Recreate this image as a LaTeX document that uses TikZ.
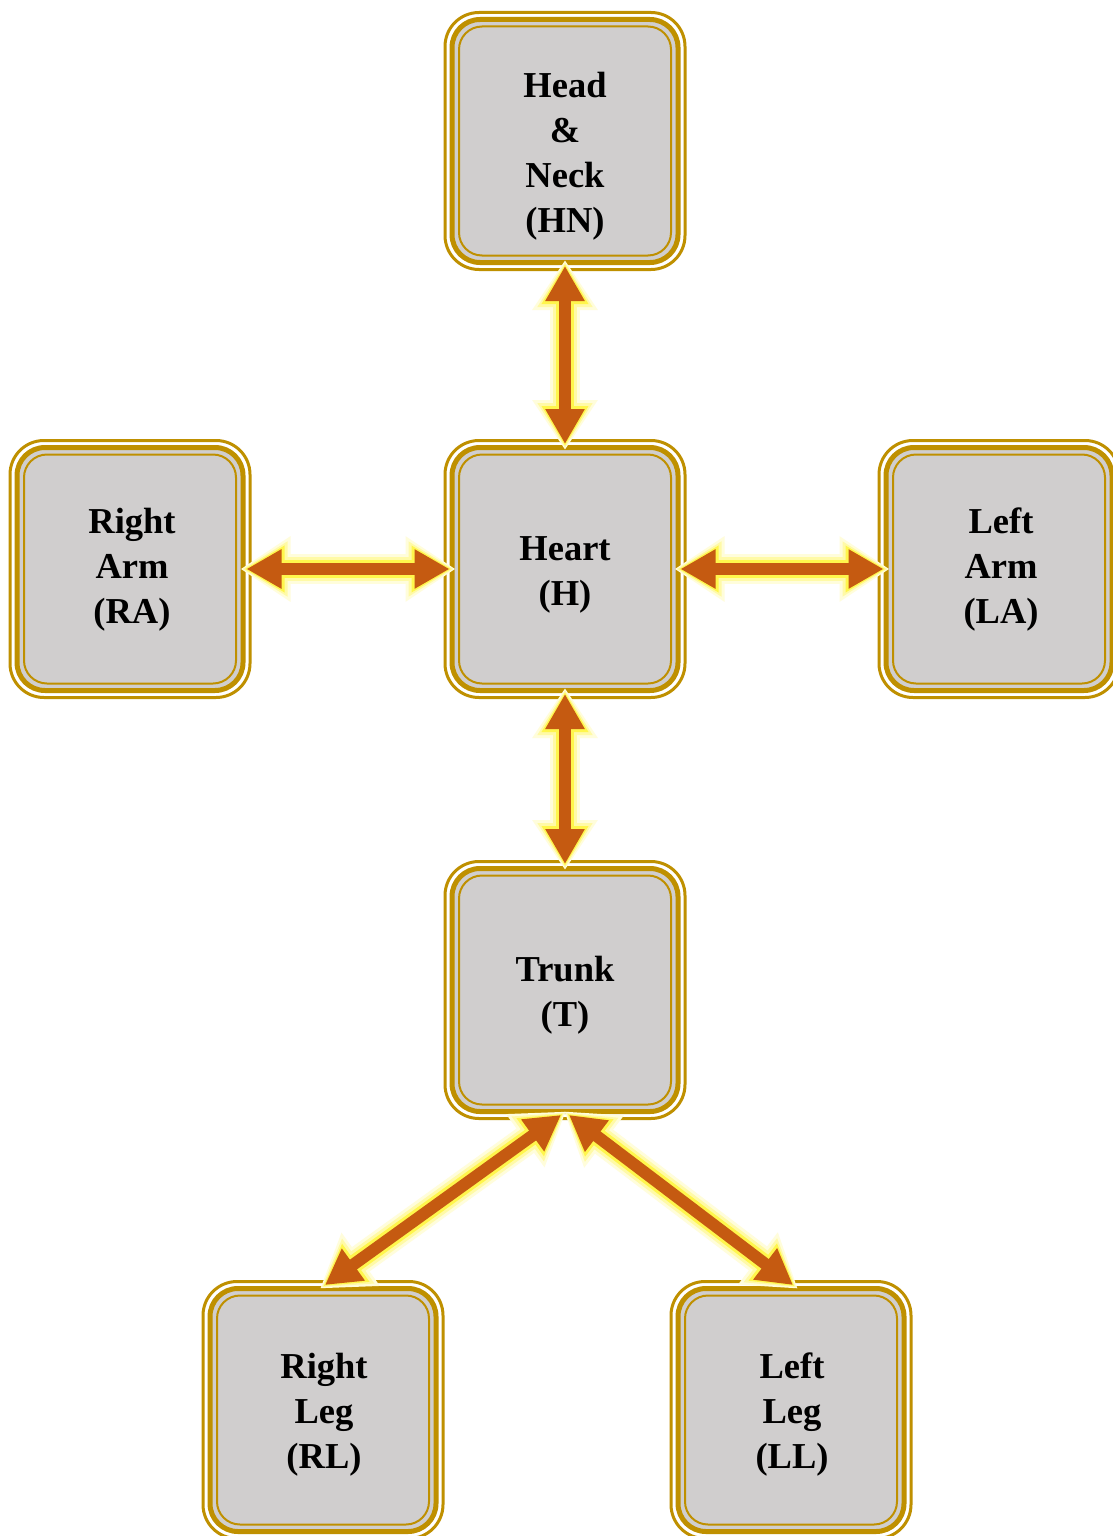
\documentclass[tikz,border=0pt]{standalone}
\usepackage{fontspec}
\setmainfont{Liberation Serif}
\usetikzlibrary{arrows.meta,calc}
\definecolor{gold}{HTML}{BF9000}
\definecolor{boxgray}{HTML}{D0CECE}
\definecolor{arroworange}{HTML}{C55A11}
\definecolor{glowyellow}{HTML}{FFF200}
\tikzset{
  outerbox/.style={rectangle, rounded corners=34pt, minimum width=240pt, minimum height=257pt, draw=gold, line width=3pt, fill=white, inner sep=0pt},
  midbox/.style={rectangle, rounded corners=28pt, minimum width=226pt, minimum height=243pt, draw=gold, line width=5pt, fill=boxgray, inner sep=0pt},
  innerbox/.style={rectangle, rounded corners=23pt, minimum width=212pt, minimum height=229pt, draw=gold, line width=2pt, inner sep=0pt},
  lbl/.style={align=center, font=\fontsize{36.5}{45}\selectfont\bfseries, inner sep=0pt},
  glowA/.style={draw=glowyellow!14, line width=30pt, shorten <=-6pt, shorten >=-6pt, {Triangle[length=50pt,width=62pt]}-{Triangle[length=50pt,width=62pt]}},
  glowB/.style={draw=glowyellow!35, line width=24pt, shorten <=-4pt, shorten >=-4pt, {Triangle[length=45pt,width=52pt]}-{Triangle[length=45pt,width=52pt]}},
  glowC/.style={draw=glowyellow!70, line width=18pt, shorten <=-2pt, shorten >=-2pt, {Triangle[length=40pt,width=44pt]}-{Triangle[length=40pt,width=44pt]}},
  link/.style={draw=arroworange, line width=12pt, {Triangle[length=35pt,width=37pt]}-{Triangle[length=35pt,width=37pt]}}
}
\newcommand{\organ}[3]{%
  \node[outerbox] (#1) at (#2,#3) {};
  \node[midbox] (#1m) at (#1.center) {};
  \node[innerbox] (#1i) at (#1.center) {};
}
\newcommand{\glowlink}[2]{%
  \draw[glowA] #1 -- #2;
  \draw[glowB] #1 -- #2;
  \draw[glowC] #1 -- #2;
  \draw[link] #1 -- #2;
}
\begin{document}
\begin{tikzpicture}[x=1pt,y=-1pt]
\useasboundingbox (0,0) rectangle (1113,1536);
\fill[white] (0,0) rectangle (1113,1536);
\organ{HN}{565}{141}
\organ{H}{565}{569}
\organ{RA}{130}{569}
\organ{LA}{999}{569}
\organ{T}{565}{990}
\organ{RL}{323}{1410}
\organ{LL}{791}{1410}
\node[lbl] (HNt) at (565,156) {Head\\\&\\Neck\\(HN)};
\node[lbl] (Ht) at (565,575) {Heart\\(H)};
\node[lbl] (RAt) at (132,570) {Right\\Arm\\(RA)};
\node[lbl] (LAt) at (1001,570) {Left\\Arm\\(LA)};
\node[lbl] (Tt) at (565,995) {Trunk\\(T)};
\node[lbl] (RLt) at (324,1415) {Right\\Leg\\(RL)};
\node[lbl] (LLt) at (792,1415) {Left\\Leg\\(LL)};
\coordinate (Tl) at ($(T.south)+(-4,-5)$);
\coordinate (Tr) at ($(T.south)+(4,-5)$);
\coordinate (RLn) at ($(RL.north)+(2,5)$);
\coordinate (LLn) at ($(LL.north)+(2,5)$);
\glowlink{($(HN.south)+(0,-5)$)}{($(H.north)+(0,5)$)}
\glowlink{($(RA.east)+(-5,0)$)}{($(H.west)+(6,0)$)}
\glowlink{($(H.east)+(-6,0)$)}{($(LA.west)+(6,0)$)}
\glowlink{($(H.south)+(0,-5)$)}{($(T.north)+(0,4)$)}
\glowlink{(Tl)}{(RLn)}
\glowlink{(Tr)}{(LLn)}
\end{tikzpicture}
\end{document}
